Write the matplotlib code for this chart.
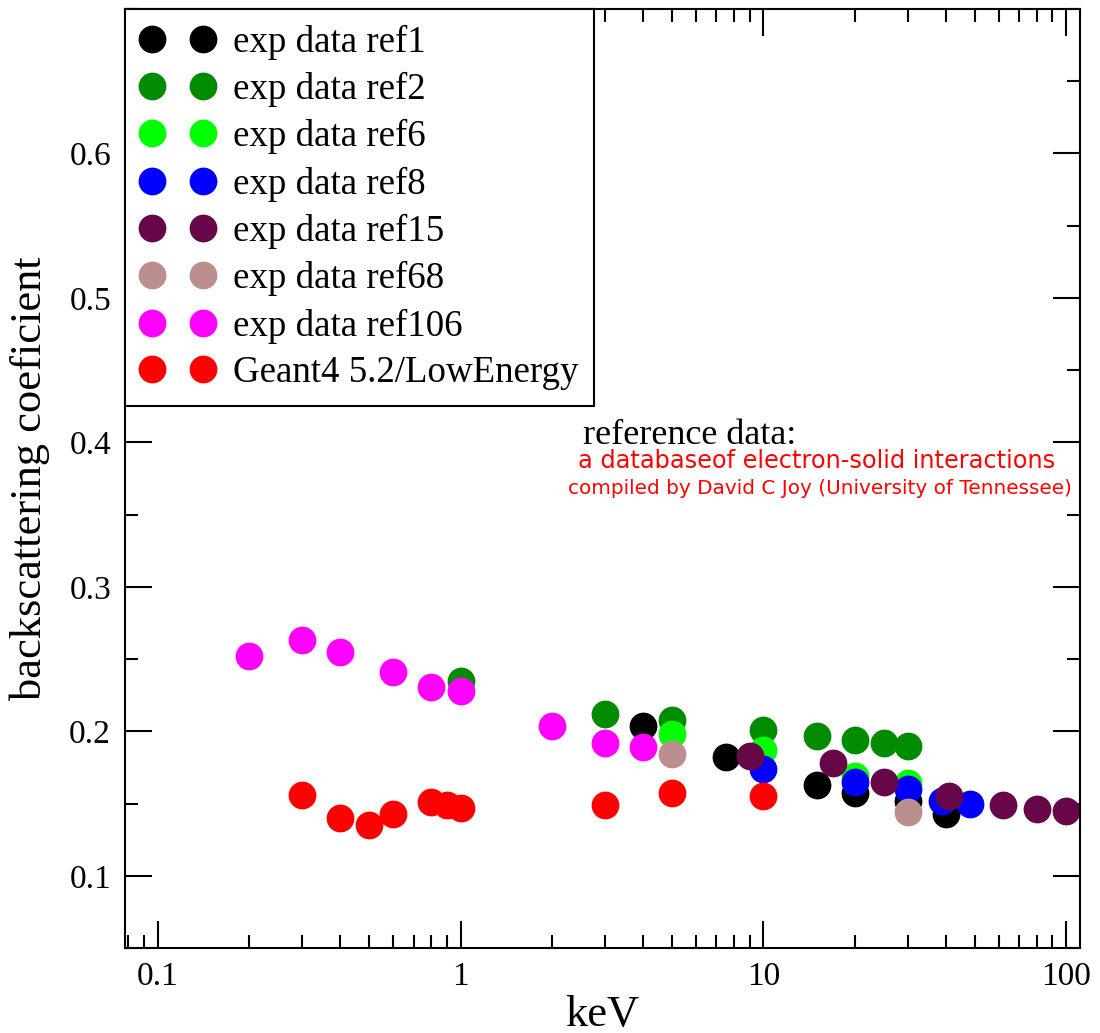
import numpy as np
import matplotlib
matplotlib.use("Agg")
import matplotlib.pyplot as plt
from matplotlib.ticker import FixedLocator, NullFormatter

# data (keV, backscattering coefficient)
ref1_e = [4, 7.5, 15, 20, 30, 40]
ref1_y = [0.204, 0.182, 0.163, 0.157, 0.152, 0.143]

ref2_e = [1, 3, 5, 10, 15, 20, 25, 30]
ref2_y = [0.235, 0.212, 0.208, 0.201, 0.197, 0.194, 0.192, 0.190]

ref6_e = [5, 10, 20, 30]
ref6_y = [0.198, 0.187, 0.169, 0.164]

ref8_e = [10, 20, 30, 39, 48]
ref8_y = [0.174, 0.165, 0.160, 0.152, 0.150]

ref15_e = [9, 17, 25, 41, 62, 80, 100]
ref15_y = [0.183, 0.178, 0.165, 0.155, 0.149, 0.146, 0.145]

ref68_e = [5, 30]
ref68_y = [0.184, 0.144]

ref106_e = [0.2, 0.3, 0.4, 0.6, 0.8, 1, 2, 3, 4]
ref106_y = [0.252, 0.263, 0.255, 0.241, 0.231, 0.228, 0.204, 0.192, 0.189]

g4_e = [0.3, 0.4, 0.5, 0.6, 0.8, 0.9, 1, 3, 5, 10]
g4_y = [0.156, 0.140, 0.135, 0.143, 0.151, 0.149, 0.147, 0.149, 0.157, 0.155]

labels = ["exp data ref1", "exp data ref2", "exp data ref6", "exp data ref8",
          "exp data ref15", "exp data ref68", "exp data ref106",
          "Geant4 5.2/LowEnergy"]
colors = ["#000000", "#008b00", "#00ff00", "#0000ff",
          "#670748", "#bc8f8f", "#ff00ff", "#ff0000"]

series = [(ref1_e, ref1_y), (ref2_e, ref2_y), (ref6_e, ref6_y), (ref8_e, ref8_y),
          (ref15_e, ref15_y), (ref68_e, ref68_y), (ref106_e, ref106_y),
          (g4_e, g4_y)]

plt.rcParams['font.family'] = ['Liberation Serif', 'DejaVu Serif']

fig = plt.figure(figsize=(11, 10.33), dpi=100)
ax = fig.add_axes([125/1100, 85/1033, 955/1100, 939/1033])

for (e, y), lab, col in zip(series, labels, colors):
    ax.plot(e, y, linestyle='none', marker='o', markersize=20,
            markeredgewidth=0, color=col, label=lab)

ax.set_xscale('log')
ax.set_xlim(0.078, 111)
ax.set_ylim(0.05, 0.7)

# xmgrace-like ticks: inward on every side
ax.set_xticks([0.1, 1, 10, 100])
ax.set_xticklabels(['0.1', '1', '10', '100'])
minors = [m * 10.0**d for d in range(-2, 3) for m in range(2, 10)]
ax.xaxis.set_minor_locator(FixedLocator(minors))
ax.xaxis.set_minor_formatter(NullFormatter())
ax.set_yticks([0.1, 0.2, 0.3, 0.4, 0.5, 0.6])
ax.set_yticklabels(['0.1', '0.2', '0.3', '0.4', '0.5', '0.6'])
ax.yaxis.set_minor_locator(FixedLocator(np.arange(0.05, 0.71, 0.05)))
ax.tick_params(which='both', direction='in', top=True, right=True, width=1.5,
               labelsize=24, pad=10)
ax.tick_params(which='major', length=19.5)
ax.tick_params(which='minor', length=9.5)
for sp in ax.spines.values():
    sp.set_linewidth(1.5)

ax.set_xlabel('keV', fontsize=32, labelpad=2)
ax.set_ylabel('backscattering coeficient', fontsize=32, labelpad=14)

leg = ax.legend(loc='upper left', bbox_to_anchor=(0, 1), borderaxespad=0,
                numpoints=2, handlelength=2.0, handletextpad=0.5,
                borderpad=0.42, labelspacing=0.33, fontsize=26.6,
                fancybox=False, framealpha=1, edgecolor='black')
leg.get_frame().set_linewidth(1.5)

fig.text(583/1100, 1 - 435/1033, 'reference data:', fontsize=26,
         va='center', ha='left')
fig.text(578/1100, 1 - 461/1033, 'a databaseof electron-solid interactions',
         color='red', fontsize=17.3, family='DejaVu Sans', va='center')
fig.text(568/1100, 1 - 488/1033, 'compiled by David C Joy (University of Tennessee)',
         color='red', fontsize=14.4, family='DejaVu Sans', va='center')

fig.savefig('out.png', dpi=100)
